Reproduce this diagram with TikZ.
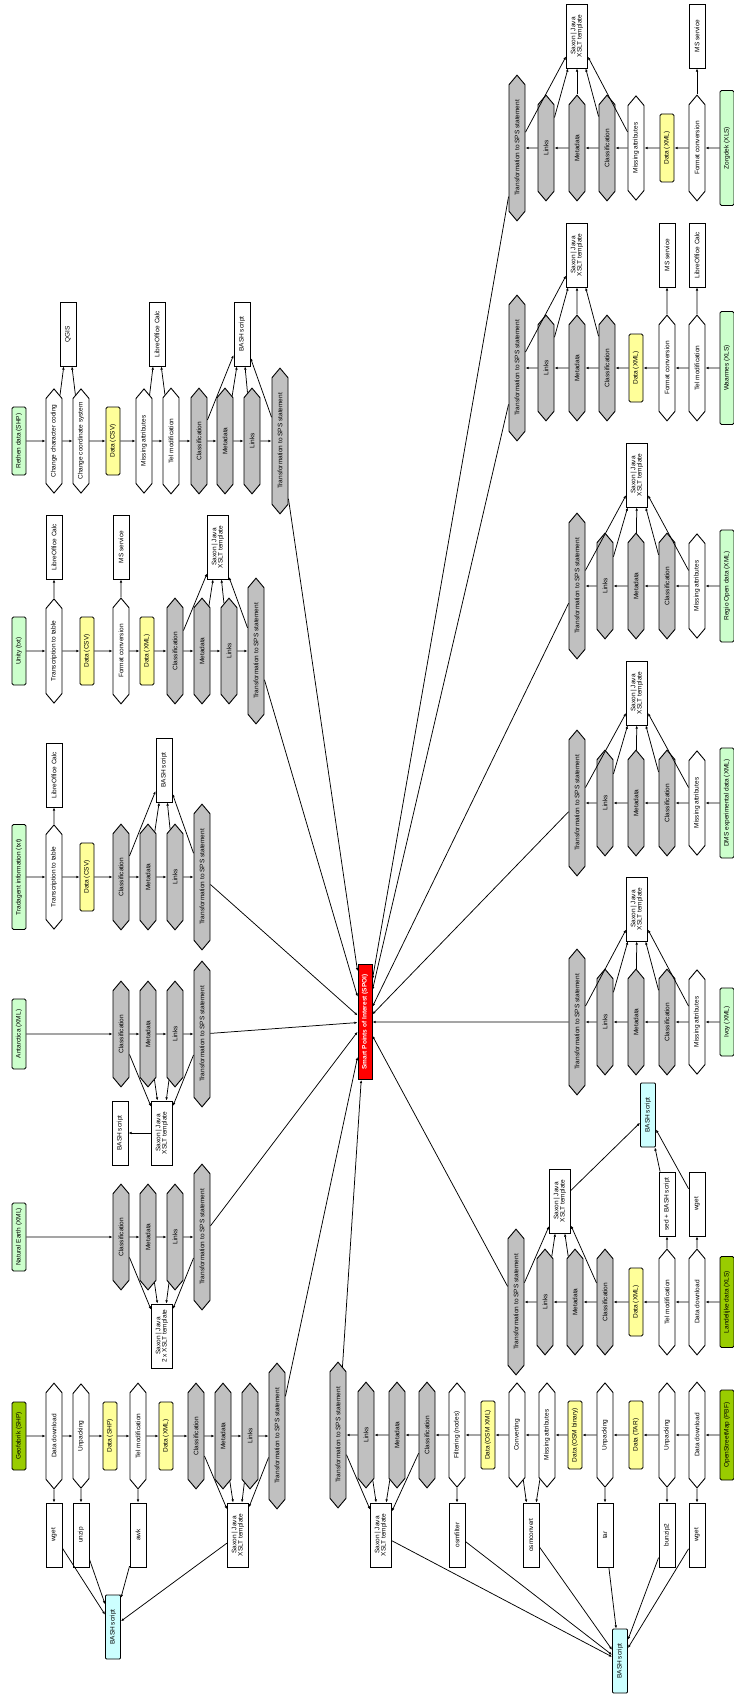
\documentclass[tikz,border=0pt]{standalone}
\usepackage{fontspec}
\setmainfont{Liberation Sans}
\usetikzlibrary{shapes.symbols,arrows.meta}
\definecolor{srcgreen}{HTML}{CCFFCC}
\definecolor{srcdark}{HTML}{99CC00}
\definecolor{datayellow}{HTML}{FFFF99}
\definecolor{hexgray}{HTML}{C0C0C0}
\definecolor{bashcyan}{HTML}{CCFFFF}
\newcommand{\vt}[1]{\rotatebox{90}{#1}}
\newcommand{\vtt}[2]{\rotatebox{90}{\renewcommand{\arraystretch}{0.8}\begin{tabular}{@{}c@{}}#1\\#2\end{tabular}}}
\newcommand{\sax}{\vtt{Saxon | Java}{XSLT template}}
\tikzset{
  every node/.style={font=\fontsize{6.5}{7}\selectfont, inner sep=0.3pt, line width=0.9pt},
  hexb/.style={draw, signal, signal to=north and south, signal pointer angle=80, minimum width=16pt, minimum height=93pt},
  proc/.style={hexb, fill=white},
  grayh/.style={hexb, fill=hexgray},
  trans/.style={hexb, fill=hexgray, minimum height=133pt},
  data/.style={draw, rounded corners=1.5pt, fill=datayellow, minimum width=14pt, minimum height=68pt},
  src/.style={draw, rounded corners=1.5pt, fill=srcgreen, minimum width=14pt, minimum height=#1},
  src/.default=68pt,
  srcd/.style={src=#1, fill=srcdark},
  srcd/.default=68pt,
  tool/.style={draw, fill=white, minimum width=16pt, minimum height=64pt},
  sup/.style={tool, minimum width=21pt},
  bash/.style={draw, rounded corners=1pt, fill=bashcyan, minimum width=15pt, minimum height=64pt},
  hub/.style={draw, fill=red, text=white, font=\fontsize{6.5}{7}\selectfont\bfseries, minimum width=14pt, minimum height=115pt},
  arr/.style={-{Latex[length=3.2pt,width=2.6pt]}, line width=0.75pt},
}
\newcommand{\links}[1]{\foreach \a/\b in {#1} {\draw[arr] (\a) -- (\b);}}
\begin{document}
\begin{tikzpicture}[x=1pt,y=-1pt]
\useasboundingbox (0,0) rectangle (733,1696);
\fill[white] (0,0) rectangle (733,1696);

% ---------- hub
\node[hub] (hub) at (365,1022) {\vt{Smart Points of Interest (SPOI)}};

% ---------- Rethen group
\node[src] (r0) at (19,441) {\vt{Rethen data (SHP)}};
\node[proc] (r1) at (54,441) {\vt{Change character coding}};
\node[proc] (r2) at (81,441) {\vt{Change coordinate system}};
\node[data] (r3) at (113,441) {\vt{Data (CSV)}};
\node[proc] (r4) at (144,441) {\vt{Missing attributes}};
\node[proc] (r5) at (171,441) {\vt{Tel modification}};
\node[grayh] (r6) at (199,441) {\vt{Classification}};
\node[grayh] (r7) at (225,441) {\vt{Metadata}};
\node[grayh] (r8) at (252,441) {\vt{Links}};
\node[trans] (r9) at (280,441) {\vt{Transformation to SPS statement}};
\node[tool] (rt1) at (68,334) {\vt{QGIS}};
\node[tool] (rt2) at (157,334) {\vt{LibreOffice Calc}};
\node[tool] (rt3) at (242,334) {\vt{BASH script}};
\links{r0/r1,r1/r2,r2/r3,r3/r4,r4/r5,r5/r6,r6/r7,r7/r8,r8/r9,r1/rt1,r2/rt1,r4/rt2,r5/rt2,r6/rt3,r7/rt3,r8/rt3,r9/rt3,r9/hub}

% ---------- Unity group
\node[src] (u0) at (19,651) {\vt{Unity (txt)}};
\node[proc] (u1) at (54,651) {\vt{Transcription to table}};
\node[data] (u2) at (87,651) {\vt{Data (CSV)}};
\node[proc] (u3) at (121,651) {\vt{Format conversion}};
\node[data] (u4) at (147,651) {\vt{Data (XML)}};
\node[grayh] (u5) at (175,651) {\vt{Classification}};
\node[grayh] (u6) at (202,651) {\vt{Metadata}};
\node[grayh] (u7) at (229,651) {\vt{Links}};
\node[trans] (u8) at (256,651) {\vt{Transformation to SPS statement}};
\node[tool] (ut1) at (54,547) {\vt{LibreOffice Calc}};
\node[tool] (ut2) at (121,547) {\vt{MS service}};
\node[sup] (ut3) at (218,547) {\sax};
\links{u0/u1,u1/u2,u2/u3,u3/u4,u4/u5,u5/u6,u6/u7,u7/u8,u1/ut1,u3/ut2,u5/ut3,u6/ut3,u7/ut3,u8/ut3,u8/hub}

% ---------- Tradagent group
\node[src=105pt] (t0) at (19,877) {\vt{Tradagent information (txt)}};
\node[proc] (t1) at (54,877) {\vt{Transcription to table}};
\node[data] (t2) at (87,877) {\vt{Data (CSV)}};
\node[grayh] (t3) at (121,877) {\vt{Classification}};
\node[grayh] (t4) at (148,877) {\vt{Metadata}};
\node[grayh] (t5) at (175,877) {\vt{Links}};
\node[trans] (t6) at (202,877) {\vt{Transformation to SPS statement}};
\node[tool] (tt1) at (54,775) {\vt{LibreOffice Calc}};
\node[tool] (tt2) at (164,770) {\vt{BASH script}};
\links{t0/t1,t1/t2,t2/t3,t3/t4,t4/t5,t5/t6,t1/tt1,t3/tt2,t4/tt2,t5/tt2,t6/tt2,t6/hub}

% ---------- Ant group
\node[src=70pt] (a0) at (19,1034) {\vt{Antarctica (XML)}};
\node[grayh] (a1) at (121,1034) {\vt{Classification}};
\node[grayh] (a2) at (148,1034) {\vt{Metadata}};
\node[grayh] (a3) at (175,1034) {\vt{Links}};
\node[trans] (a4) at (202,1034) {\vt{Transformation to SPS statement}};
\node[sup] (at1) at (162,1133) {\sax};
\node[tool] (at2) at (120,1133) {\vt{BASH script}};
\links{a0/a1,a1/a2,a2/a3,a3/a4,a1/at1,a2/at1,a3/at1,a4/at1,at1/at2,a4/hub}

% ---------- Natural Earth group
\node[src] (n0) at (19,1237) {\vt{Natural Earth (XML)}};
\node[grayh] (n1) at (121,1237) {\vt{Classification}};
\node[grayh] (n2) at (148,1237) {\vt{Metadata}};
\node[grayh] (n3) at (175,1237) {\vt{Links}};
\node[trans] (n4) at (202,1237) {\vt{Transformation to SPS statement}};
\node[sup] (nt1) at (162,1336) {\vtt{Saxon | Java}{2 x XSLT template}};
\links{n0/n1,n1/n2,n2/n3,n3/n4,n1/nt1,n2/nt1,n3/nt1,n4/nt1,n4/hub}

% ---------- Geofabrik group
\node[srcd] (g0) at (19,1436) {\vt{Geofabrik (SHP)}};
\node[proc] (g1) at (54,1436) {\vt{Data download}};
\node[proc] (g2) at (81,1436) {\vt{Unpacking}};
\node[data] (g3) at (110,1436) {\vt{Data (SHP)}};
\node[proc] (g4) at (138,1436) {\vt{Tel modification}};
\node[data] (g5) at (166,1436) {\vt{Data (XML)}};
\node[grayh] (g6) at (196,1436) {\vt{Classification}};
\node[grayh] (g7) at (223,1436) {\vt{Metadata}};
\node[grayh] (g8) at (250,1436) {\vt{Links}};
\node[trans] (g9) at (277,1436) {\vt{Transformation to SPS statement}};
\node[tool] (gt1) at (54,1535) {\vt{wget}};
\node[tool] (gt2) at (81,1535) {\vt{unzip}};
\node[tool] (gt3) at (138,1535) {\vt{awk}};
\node[sup] (gt4) at (238,1535) {\sax};
\node[bash] (gt5) at (113,1627) {\vt{BASH script}};
\links{g0/g1,g1/g2,g2/g3,g3/g4,g4/g5,g5/g6,g6/g7,g7/g8,g8/g9,g1/gt1,g2/gt2,g4/gt3,g6/gt4,g7/gt4,g8/gt4,g9/gt4,gt1/gt5,gt2/gt5,gt3/gt5,gt4/gt5,g9/hub}

% ---------- Zorgdek group
\node[src=115pt] (z0) at (727,148) {\vt{Zorgdek (XLS)}};
\node[proc] (z1) at (697,148) {\vt{Format conversion}};
\node[data] (z2) at (667,148) {\vt{Data (XML)}};
\node[proc] (z3) at (636,148) {\vt{Missing attributes}};
\node[grayh] (z4) at (607,148) {\vt{Classification}};
\node[grayh] (z5) at (577,148) {\vt{Metadata}};
\node[grayh] (z6) at (546,148) {\vt{Links}};
\node[trans] (z7) at (517,148) {\vt{Transformation to SPS statement}};
\node[tool] (zt1) at (697,36) {\vt{MS service}};
\node[sup] (zt2) at (577,36) {\sax};
\links{z0/z1,z1/z2,z2/z3,z3/z4,z4/z5,z5/z6,z6/z7,z1/zt1,z3/zt2,z4/zt2,z5/zt2,z6/zt2,z7/zt2,z7/hub}

% ---------- Waarmes group
\node[src=113pt] (w0) at (727,368) {\vt{Waarmes (XLS)}};
\node[proc] (w1) at (697,368) {\vt{Tel modification}};
\node[proc] (w2) at (667,368) {\vt{Format conversion}};
\node[data] (w3) at (636,368) {\vt{Data (XML)}};
\node[grayh] (w4) at (607,368) {\vt{Classification}};
\node[grayh] (w5) at (577,368) {\vt{Metadata}};
\node[grayh] (w6) at (546,368) {\vt{Links}};
\node[trans] (w7) at (517,368) {\vt{Transformation to SPS statement}};
\node[tool] (wt1) at (697,255) {\vt{LibreOffice Calc}};
\node[tool] (wt2) at (667,255) {\vt{MS service}};
\node[sup] (wt3) at (577,255) {\sax};
\links{w0/w1,w1/w2,w2/w3,w3/w4,w4/w5,w5/w6,w6/w7,w1/wt1,w2/wt2,w4/wt3,w5/wt3,w6/wt3,w7/wt3,w7/hub}

% ---------- Regio group
\node[src=112pt] (e0) at (727,586) {\vt{Regio Open data (XML)}};
\node[proc] (e1) at (697,586) {\vt{Missing attributes}};
\node[grayh] (e2) at (667,586) {\vt{Classification}};
\node[grayh] (e3) at (636,586) {\vt{Metadata}};
\node[grayh] (e4) at (605,586) {\vt{Links}};
\node[trans] (e5) at (577,586) {\vt{Transformation to SPS statement}};
\node[sup] (et1) at (637,475) {\sax};
\links{e0/e1,e1/e2,e2/e3,e3/e4,e4/e5,e1/et1,e2/et1,e3/et1,e4/et1,e5/et1,e5/hub}

% ---------- DMS group
\node[src=110pt] (d0) at (727,803) {\vt{DMS experimental data (XML)}};
\node[proc] (d1) at (697,803) {\vt{Missing attributes}};
\node[grayh] (d2) at (667,803) {\vt{Classification}};
\node[grayh] (d3) at (636,803) {\vt{Metadata}};
\node[grayh] (d4) at (605,803) {\vt{Links}};
\node[trans] (d5) at (577,803) {\vt{Transformation to SPS statement}};
\node[sup] (dt1) at (637,693) {\sax};
\links{d0/d1,d1/d2,d2/d3,d3/d4,d4/d5,d1/dt1,d2/dt1,d3/dt1,d4/dt1,d5/dt1,d5/hub}

% ---------- Ivoy group
\node[src] (i0) at (727,1022) {\vt{Ivoy (XML)}};
\node[proc] (i1) at (697,1022) {\vt{Missing attributes}};
\node[grayh] (i2) at (667,1022) {\vt{Classification}};
\node[grayh] (i3) at (636,1022) {\vt{Metadata}};
\node[grayh] (i4) at (605,1022) {\vt{Links}};
\node[trans] (i5) at (577,1022) {\vt{Transformation to SPS statement}};
\node[sup] (it1) at (637,909) {\sax};
\links{i0/i1,i1/i2,i2/i3,i3/i4,i4/i5,i1/it1,i2/it1,i3/it1,i4/it1,i5/it1,i5/hub}

% ---------- Landelijke group
\node[srcd=91pt] (l0) at (727,1302) {\vt{Landelijke data (XLS)}};
\node[proc] (l1) at (697,1302) {\vt{Data download}};
\node[proc] (l2) at (667,1302) {\vt{Tel modification}};
\node[data] (l3) at (636,1302) {\vt{Data (XML)}};
\node[grayh] (l4) at (605,1302) {\vt{Classification}};
\node[grayh] (l5) at (575,1302) {\vt{Metadata}};
\node[grayh] (l6) at (545,1302) {\vt{Links}};
\node[trans] (l7) at (516,1302) {\vt{Transformation to SPS statement}};
\node[tool] (lt1) at (697,1204) {\vt{wget}};
\node[tool] (lt2) at (667,1204) {\vt{sed + BASH script}};
\node[sup] (lt3) at (560,1201) {\sax};
\node[bash] (lt4) at (648,1115) {\vt{BASH script}};
\links{l0/l1,l1/l2,l2/l3,l3/l4,l4/l5,l5/l6,l6/l7,l1/lt1,l2/lt2,lt1/lt4,lt2/lt4,lt3/lt4,l4/lt3,l5/lt3,l6/lt3,l7/lt3,l7/hub}

% ---------- OpenStreetMap group
\node[srcd=90pt] (o0) at (727,1435) {\vt{OpenStreetMap (PBF)}};
\node[proc] (o1) at (697,1435) {\vt{Data download}};
\node[proc] (o2) at (667,1435) {\vt{Unpacking}};
\node[data] (o3) at (636,1435) {\vt{Data (TAR)}};
\node[proc] (o4) at (605,1435) {\vt{Unpacking}};
\node[data] (o5) at (575,1435) {\vt{Data (OSM binary)}};
\node[proc] (o6) at (547,1435) {\vt{Missing attributes}};
\node[proc] (o7) at (517,1435) {\vt{Converting}};
\node[data] (o8) at (488,1435) {\vt{Data (OSM XML)}};
\node[proc] (o9) at (457,1435) {\vt{Filtering (nodes)}};
\node[grayh] (o10) at (427,1435) {\vt{Classification}};
\node[grayh] (o11) at (397,1435) {\vt{Metadata}};
\node[grayh] (o12) at (366,1435) {\vt{Links}};
\node[trans] (o13) at (338,1435) {\vt{Transformation to SPS statement}};
\node[tool] (ot1) at (697,1535) {\vt{wget}};
\node[tool] (ot2) at (667,1535) {\vt{bunzip2}};
\node[tool] (ot3) at (605,1535) {\vt{tar}};
\node[tool] (ot4) at (531,1535) {\vt{osmconvert}};
\node[tool] (ot5) at (457,1535) {\vt{osmfilter}};
\node[sup] (ot6) at (381,1535) {\sax};
\node[bash] (ot7) at (620,1661) {\vt{BASH script}};
\links{o0/o1,o1/o2,o2/o3,o3/o4,o4/o5,o5/o6,o6/o7,o7/o8,o8/o9,o9/o10,o10/o11,o11/o12,o12/o13,o1/ot1,o2/ot2,o4/ot3,o6/ot4,o7/ot4,o9/ot5,o10/ot6,o11/ot6,o12/ot6,o13/ot6,ot1/ot7,ot2/ot7,ot3/ot7,ot4/ot7,ot5/ot7,ot6/ot7,o13/hub}
\end{tikzpicture}
\end{document}
